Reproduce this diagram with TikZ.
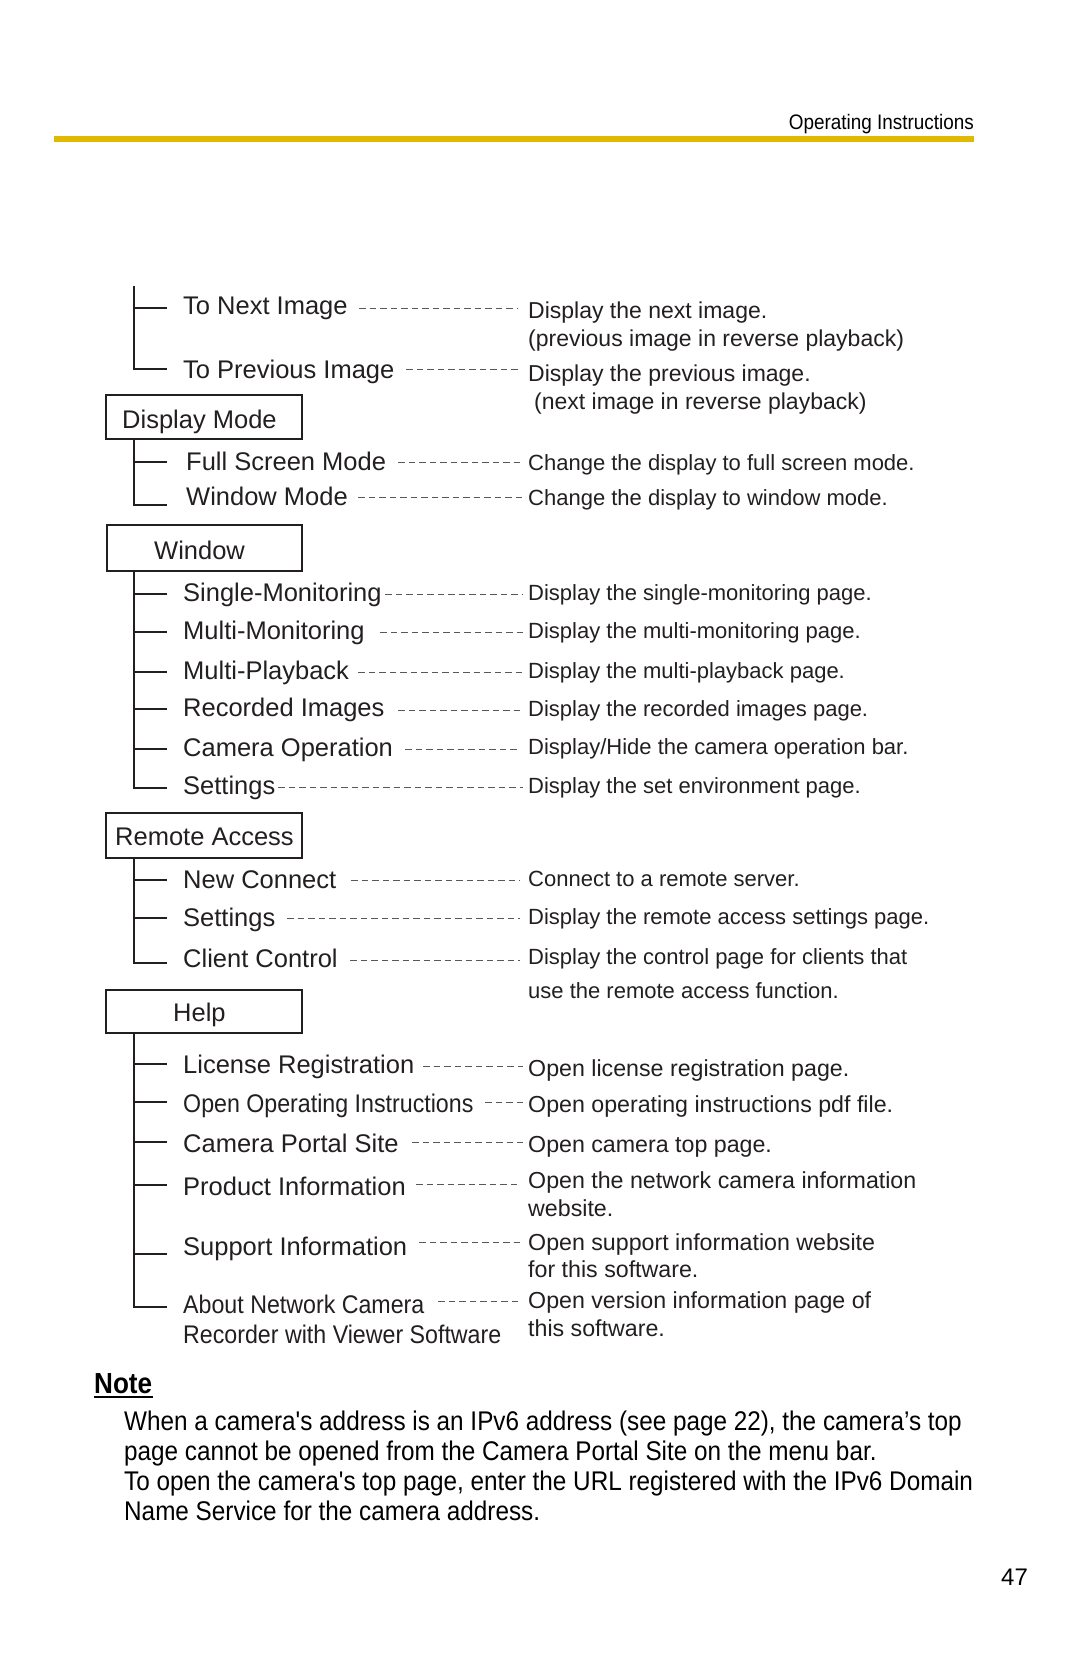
\documentclass[tikz,border=0pt]{standalone}
\usepackage{fontspec}
\setmainfont{Liberation Sans}
\newfontfamily\narrowfont[FakeStretch=0.9]{Liberation Sans}
\newfontfamily\slimfont[FakeStretch=0.91]{Liberation Sans}
\definecolor{ink}{RGB}{35,31,32}
\definecolor{baryellow}{RGB}{224,185,0}
\tikzset{
  lbl/.style={anchor=base west, inner sep=0pt, text=ink, font=\fontsize{25.5}{30}\selectfont},
  slbl/.style={anchor=base west, inner sep=0pt, text=ink, font=\slimfont\fontsize{25.5}{30}\selectfont},
  desc/.style={anchor=base west, inner sep=0pt, text=ink, font=\fontsize{22}{27}\selectfont},
  descA/.style={desc, font=\fontsize{23}{27}\selectfont},
  descH/.style={desc, font=\fontsize{23.2}{27}\selectfont},
  notetxt/.style={anchor=base west, inner sep=0pt, text=black, font=\narrowfont\fontsize{27}{30}\selectfont},
  headbox/.style={draw=ink, line width=2pt},
  tree/.style={draw=ink, line width=1.3pt},
  dots/.style={draw=ink!75, line width=0.9pt, dash pattern=on 6.5pt off 4pt}
}
\begin{document}
\begin{tikzpicture}[x=1pt,y=-1pt]
\path[use as bounding box, fill=white] (0,0) rectangle (1080,1669);

% header
\node[anchor=base east, inner sep=0pt, font=\narrowfont\fontsize{21}{24}\selectfont] (hdr) at (974,130) {Operating Instructions};
\fill[baryellow] (54,136) rectangle (974,142);

% ---- first group (continued)
\draw[tree] (134,286) -- (134,369) -- (167,369);
\draw[tree] (134,308) -- (167,308);
\node[lbl] (lnext) at (183,315) {To Next Image};
\node[lbl] (lprev) at (183,378) {To Previous Image};
\draw[dots] (359,308) -- (518,308);
\draw[dots] (406,369) -- (518,369);
\node[descA] (dnext) at (528,319) {Display the next image.};
\node[descA] (dnext2) at (528,346) {(previous image in reverse playback)};
\node[descA] (dprev) at (528,381) {Display the previous image.};
\node[descA] (dprev2) at (534,409) {(next image in reverse playback)};

% ---- Display Mode
\draw[headbox] (106,395) rectangle (302,439);
\node[lbl] (dm) at (122,428) {Display Mode};
\draw[tree] (134,439) -- (134,505) -- (167,505);
\draw[tree] (134,462) -- (167,462);
\node[lbl] (lfull) at (186,470) {Full Screen Mode};
\node[lbl] (lwin) at (186,505) {Window Mode};
\draw[dots] (398,462) -- (523,462);
\draw[dots] (358,497) -- (523,497);
\node[desc] (dfull) at (528,470) {Change the display to full screen mode.};
\node[desc] (dwin) at (528,505) {Change the display to window mode.};

% ---- Window
\draw[headbox] (107,525) rectangle (302,571);
\node[lbl] (wn) at (154,559) {Window};
\draw[tree] (134,571) -- (134,788) -- (167,788);
\foreach \y in {594,632,672,709,749} \draw[tree] (134,\y) -- (167,\y);
\node[lbl] (lsm) at (183,601) {Single-Monitoring};
\node[lbl] (lmm) at (183,639) {Multi-Monitoring};
\node[lbl] (lmp) at (183,679) {Multi-Playback};
\node[lbl] (lri) at (183,716) {Recorded Images};
\node[lbl] (lco) at (183,756) {Camera Operation};
\node[lbl] (lset) at (183,794) {Settings};
\draw[dots] (385,594) -- (523,594);
\draw[dots] (380,632) -- (523,632);
\draw[dots] (358,672) -- (523,672);
\draw[dots] (398,710) -- (523,710);
\draw[dots] (405,749) -- (520,749);
\draw[dots] (278,787) -- (523,787);
\node[desc] (dsm) at (528,600) {Display the single-monitoring page.};
\node[desc] (dmm) at (528,638) {Display the multi-monitoring page.};
\node[desc] (dmp) at (528,678) {Display the multi-playback page.};
\node[desc] (dri) at (528,716) {Display the recorded images page.};
\node[desc] (dco) at (528,754) {Display/Hide the camera operation bar.};
\node[desc] (dset) at (528,793) {Display the set environment page.};

% ---- Remote Access
\draw[headbox] (106,813) rectangle (302,858);
\node[lbl] (ra) at (115,845) {Remote Access};
\draw[tree] (134,858) -- (134,963) -- (167,963);
\foreach \y in {880,918} \draw[tree] (134,\y) -- (167,\y);
\node[lbl] (lnc) at (183,888) {New Connect};
\node[lbl] (lrs) at (183,926) {Settings};
\node[lbl] (lcc) at (183,967) {Client Control};
\draw[dots] (351,880) -- (520,880);
\draw[dots] (287,918) -- (520,918);
\draw[dots] (350,960) -- (520,960);
\node[desc] (dnc) at (528,886) {Connect to a remote server.};
\node[desc] (drs) at (528,924) {Display the remote access settings page.};
\node[desc] (dcc) at (528,964) {Display the control page for clients that};
\node[desc] (dcc2) at (528,998) {use the remote access function.};

% ---- Help
\draw[headbox] (106,990) rectangle (302,1033);
\node[lbl] (hp) at (173,1021) {Help};
\draw[tree] (134,1033) -- (134,1307) -- (167,1307);
\foreach \y in {1064,1102,1142,1185,1254} \draw[tree] (134,\y) -- (167,\y);
\node[lbl] (llr) at (183,1073) {License Registration};
\node[slbl] (loi) at (183,1112) {Open Operating Instructions};
\node[lbl] (lcp) at (183,1152) {Camera Portal Site};
\node[lbl] (lpi) at (183,1195) {Product Information};
\node[lbl] (lsi) at (183,1255) {Support Information};
\node[slbl] (lab) at (183,1313) {About Network Camera};
\node[slbl] (lab2) at (183,1343) {Recorder with Viewer Software};
\draw[dots] (423,1066) -- (523,1066);
\draw[dots] (485,1102) -- (523,1102);
\draw[dots] (412,1142) -- (523,1142);
\draw[dots] (416,1184) -- (520,1184);
\draw[dots] (419,1242) -- (523,1242);
\draw[dots] (438,1301) -- (520,1301);
\node[descH] (dlr) at (528,1076) {Open license registration page.};
\node[descH] (doi) at (528,1112) {Open operating instructions pdf file.};
\node[descH] (dcp) at (528,1152) {Open camera top page.};
\node[descH] (dpi) at (528,1188) {Open the network camera information};
\node[descH] (dpi2) at (528,1216) {website.};
\node[descH] (dsi) at (528,1250) {Open support information website};
\node[descH] (dsi2) at (528,1277) {for this software.};
\node[descH] (dab) at (528,1308) {Open version information page of};
\node[descH] (dab2) at (528,1336) {this software.};

% ---- Note
\node[anchor=base west, inner sep=0pt, font=\narrowfont\bfseries\fontsize{29}{32}\selectfont] (note) at (94,1393) {Note};
\draw[line width=2.2pt] (note.base west) ++(0,4) -- ++(59,0);
\node[notetxt] (n1) at (124,1430) {When a camera's address is an IPv6 address (see page 22), the camera’s top};
\node[notetxt] (n2) at (124,1460) {page cannot be opened from the Camera Portal Site on the menu bar.};
\node[notetxt] (n3) at (124,1490) {To open the camera's top page, enter the URL registered with the IPv6 Domain};
\node[notetxt] (n4) at (124,1520) {Name Service for the camera address.};

% page number
\node[anchor=base west, inner sep=0pt, font=\fontsize{24}{28}\selectfont] (pg) at (1001,1585) {47};
\end{tikzpicture}
\end{document}
